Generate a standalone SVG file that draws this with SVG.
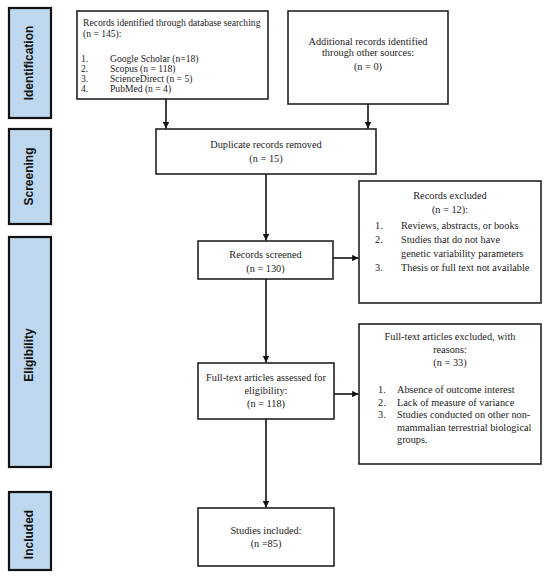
<svg xmlns="http://www.w3.org/2000/svg" width="550" height="579" viewBox="0 0 550 579">
<style>
.phase{fill:#bdd7ee;stroke:#111;stroke-width:2.2}
.plab{font-family:"Liberation Sans",Arial,sans-serif;font-weight:bold;font-size:12px;fill:#111;text-anchor:middle;dominant-baseline:central}
.box{fill:#fff;stroke:#222;stroke-width:1.6}
.t{font-family:"Liberation Serif","Times New Roman",serif;font-size:10.3px;fill:#222}
.s{font-size:9.6px}
.c{text-anchor:middle}
.edge{stroke:#111;stroke-width:1.6;fill:none;marker-end:url(#ah)}
</style>
<defs>
<marker id="ah" viewBox="0 0 10 10" refX="10" refY="5" markerWidth="4" markerHeight="4" orient="auto" markerUnits="strokeWidth">
<path d="M0,0 L10,5 L0,10 z" fill="#111"/>
</marker>
</defs>
<rect width="550" height="579" fill="#fff"/>

<g id="phase-identification">
<rect class="phase" x="9" y="8" width="42" height="110"/>
<text class="plab" transform="translate(29,63) rotate(-90)">Identification</text>
</g>
<g id="phase-screening">
<rect class="phase" x="9" y="129" width="42" height="95"/>
<text class="plab" transform="translate(29,176.5) rotate(-90)">Screening</text>
</g>
<g id="phase-eligibility">
<rect class="phase" x="9" y="237" width="42" height="230"/>
<text class="plab" transform="translate(29,355) rotate(-90)">Eligibility</text>
</g>
<g id="phase-included">
<rect class="phase" x="9" y="492" width="42" height="78"/>
<text class="plab" transform="translate(29,534.5) rotate(-90)">Included</text>
</g>

<g id="node-database">
<rect class="box" x="77" y="11" width="191" height="88"/>
<text class="t s" x="83" y="26">Records identified through database searching</text>
<text class="t s" x="83" y="37">(n = 145):</text>
<text class="t s" x="81" y="62">1.</text><text class="t s" x="110" y="62">Google Scholar (n=18)</text>
<text class="t s" x="81" y="72">2.</text><text class="t s" x="110" y="72">Scopus (n = 118)</text>
<text class="t s" x="81" y="82">3.</text><text class="t s" x="110" y="82">ScienceDirect (n = 5)</text>
<text class="t s" x="81" y="92">4.</text><text class="t s" x="110" y="92">PubMed  (n = 4)</text>
</g>

<g id="node-additional">
<rect class="box" x="288" y="11" width="160" height="93"/>
<text class="t c" x="368" y="44.5">Additional records identified</text>
<text class="t c" x="368" y="55.5">through other sources:</text>
<text class="t c" x="368" y="69.5">(n = 0)</text>
</g>

<g id="node-duplicates">
<rect class="box" x="156" y="129" width="220" height="45"/>
<text class="t c" x="266" y="147.5">Duplicate records removed</text>
<text class="t c" x="266" y="161.5">(n = 15)</text>
</g>

<g id="node-screened">
<rect class="box" x="198" y="241" width="135" height="38"/>
<text class="t c" x="265.5" y="257.5">Records screened</text>
<text class="t c" x="265.5" y="271.5">(n = 130)</text>
</g>

<g id="node-excluded">
<rect class="box" x="359" y="181" width="182" height="122"/>
<text class="t c" x="450" y="198.5">Records excluded</text>
<text class="t c" x="450" y="212.5">(n = 12):</text>
<text class="t" x="375" y="228.5">1.</text><text class="t" x="401" y="228.5">Reviews, abstracts, or books</text>
<text class="t" x="375" y="242.5">2.</text><text class="t" x="401" y="242.5">Studies that do not have</text>
<text class="t" x="401" y="256.5">genetic variability parameters</text>
<text class="t" x="375" y="270.5">3.</text><text class="t" x="401" y="270.5">Thesis or full text not available</text>
</g>

<g id="node-assessed">
<rect class="box" x="198" y="363" width="136" height="56"/>
<text class="t c" x="266" y="381">Full-text articles assessed for</text>
<text class="t c" x="266" y="394">eligibility:</text>
<text class="t c" x="266" y="407">(n = 118)</text>
</g>

<g id="node-fulltext-excluded">
<rect class="box" x="359" y="324" width="182" height="140"/>
<text class="t c" x="450" y="339.5">Full-text articles excluded, with</text>
<text class="t c" x="450" y="352.5">reasons:</text>
<text class="t c" x="450" y="365.5">(n = 33)</text>
<text class="t" x="378" y="392.5">1.</text><text class="t" x="397" y="392.5">Absence of outcome interest</text>
<text class="t" x="378" y="405.5">2.</text><text class="t" x="397" y="405.5">Lack of measure of variance</text>
<text class="t" x="378" y="418">3.</text><text class="t" x="397" y="418">Studies conducted on other non-</text>
<text class="t" x="397" y="430.5">mammalian terrestrial biological</text>
<text class="t" x="397" y="443">groups.</text>
</g>

<g id="node-included">
<rect class="box" x="198" y="508" width="136" height="58"/>
<text class="t c" x="266" y="533.5">Studies included:</text>
<text class="t c" x="266" y="546.5">(n =85)</text>
</g>

<g id="connectors">
<line class="edge" x1="166" y1="99" x2="166" y2="128.5"/>
<line class="edge" x1="368" y1="104" x2="368" y2="128.5"/>
<line class="edge" x1="266" y1="174" x2="266" y2="240.5"/>
<line class="edge" x1="333" y1="258" x2="358.5" y2="258"/>
<line class="edge" x1="266" y1="279" x2="266" y2="362.5"/>
<line class="edge" x1="334" y1="394" x2="358.5" y2="394"/>
<line class="edge" x1="266" y1="419" x2="266" y2="507.5"/>
</g>
</svg>
